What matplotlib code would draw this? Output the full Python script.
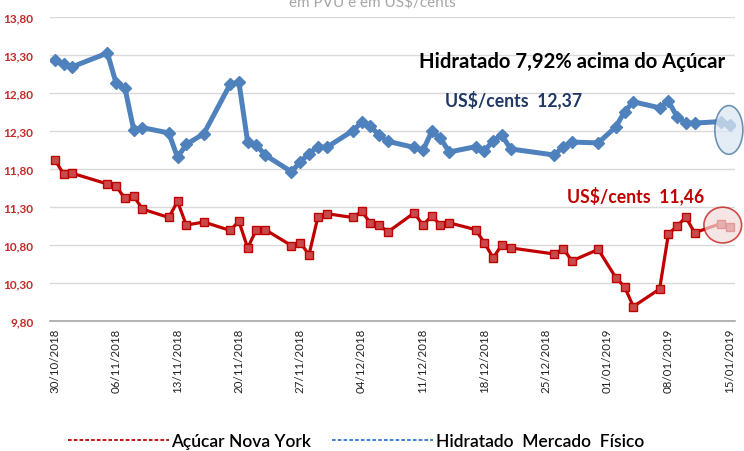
import matplotlib
matplotlib.use("Agg")
import matplotlib.pyplot as plt
import matplotlib.dates as mdates
from matplotlib.lines import Line2D
from matplotlib.patches import Ellipse
import pandas as pd

dates = ["30/10/2018", "31/10/2018", "01/11/2018", "05/11/2018", "06/11/2018", "07/11/2018",
         "08/11/2018", "09/11/2018", "12/11/2018", "13/11/2018", "14/11/2018", "16/11/2018",
         "19/11/2018", "20/11/2018", "21/11/2018", "22/11/2018", "23/11/2018", "26/11/2018",
         "27/11/2018", "28/11/2018", "29/11/2018", "30/11/2018", "03/12/2018", "04/12/2018",
         "05/12/2018", "06/12/2018", "07/12/2018", "10/12/2018", "11/12/2018", "12/12/2018",
         "13/12/2018", "14/12/2018", "17/12/2018", "18/12/2018", "19/12/2018", "20/12/2018",
         "21/12/2018", "26/12/2018", "27/12/2018", "28/12/2018", "31/12/2018", "02/01/2019",
         "03/01/2019", "04/01/2019", "07/01/2019", "08/01/2019", "09/01/2019", "10/01/2019",
         "11/01/2019", "14/01/2019", "15/01/2019"]

hidratado = [13.23, 13.17, 13.14, 13.32, 12.92, 12.86, 12.31, 12.34, 12.27, 11.95, 12.12, 12.26,
             12.91, 12.94, 12.15, 12.11, 11.98, 11.76, 11.89, 12.00, 12.09, 12.08, 12.30, 12.41,
             12.36, 12.24, 12.16, 12.08, 12.04, 12.29, 12.20, 12.02, 12.09, 12.03, 12.17, 12.24,
             12.06, 11.98, 12.09, 12.15, 12.14, 12.35, 12.55, 12.68, 12.60, 12.69, 12.48, 12.40,
             12.40, 12.42, 12.37]

acucar = [11.92, 11.73, 11.74, 11.60, 11.57, 11.41, 11.44, 11.27, 11.16, 11.37, 11.06, 11.10,
          10.99, 11.11, 10.76, 11.00, 11.00, 10.79, 10.83, 10.67, 11.16, 11.21, 11.16, 11.24,
          11.09, 11.06, 10.97, 11.22, 11.06, 11.18, 11.06, 11.09, 11.00, 10.83, 10.63, 10.80,
          10.76, 10.68, 10.75, 10.59, 10.74, 10.37, 10.25, 9.99, 10.22, 10.94, 11.05, 11.16,
          10.96, 11.08, 11.04]

yticks = [9.80, 10.30, 10.80, 11.30, 11.80, 12.30, 12.80, 13.30, 13.80]
subtitle = "em PVU e em US$/cents"
note_main = "Hidratado 7,92% acima do Açúcar"
note_blue = "US$/cents  12,37"
note_red = "US$/cents  11,46"
legend_labels = ["Açúcar Nova York", "Hidratado  Mercado  Físico"]

plt.rcParams['font.family'] = ['Lato', 'DejaVu Sans']

x = pd.to_datetime(dates, format="%d/%m/%Y")
xn = mdates.date2num(x)

BLUE = "#4F81BD"
RED = "#C00000"

fig = plt.figure(figsize=(7.44, 4.52), dpi=100)
ax = fig.add_axes([50/744, 1-322/452, (735-50)/744, (322-17.5)/452])

ax.plot(xn, hidratado, color=BLUE, lw=3.6, marker='D', ms=6.5, mfc=BLUE, mec=BLUE, zorder=3)
ax.plot(xn, acucar, color=RED, lw=2.3, marker='s', ms=5.5, mfc="#C94A4D", mec=RED, mew=1.0, zorder=3)

ax.set_ylim(9.80, 13.80)
ax.set_xlim(xn[0] - 0.55, xn[-1] + 0.6)
ax.set_yticks(yticks)
ax.set_yticklabels([f"{v:.2f}".replace('.', ',') for v in yticks], color="#C62828",
                   fontweight='bold', fontsize=8.5)
ticks = pd.date_range(x[0], x[-1], freq='7D')
ax.set_xticks(mdates.date2num(ticks))
ax.set_xticklabels([t.strftime("%d/%m/%Y") for t in ticks], rotation=90, fontsize=8.3, color="#222222")
ax.tick_params(axis='both', length=0, pad=5)
ax.tick_params(axis='y', pad=12)
ax.grid(axis='y', color="#D9D9D9", lw=1)
ax.set_axisbelow(True)
for s in ['top', 'right', 'left']:
    ax.spines[s].set_visible(False)
ax.spines['bottom'].set_color("#A6A6A6")
ax.spines['bottom'].set_linewidth(1.2)

# highlight ellipses around latest values
ax.add_patch(Ellipse((xn[-1] - 0.1, hidratado[-1] - 0.06), 3.2, 0.64, facecolor="#DCE6F2",
                     edgecolor="#41719C", lw=1.2, alpha=0.75, zorder=4, clip_on=False))
ax.add_patch(Ellipse(((xn[-1] + xn[-2]) / 2 - 0.3, (acucar[-1] + acucar[-2]) / 2), 4.3, 0.47,
                     facecolor="#F2DCDB", edgecolor=RED, lw=1.2, alpha=0.7, zorder=4, clip_on=False))

fig.text(372/744, 1-2/452, subtitle, ha='center', va='center', color="#A6A6A6", fontsize=11)
fig.text(572/744, 1-62/452, note_main, ha='center', va='center', fontweight='bold',
         fontsize=14.6, color="black")
fig.text(514/744, 1-100/452, note_blue, ha='center', va='center', fontweight='bold',
         fontsize=12.7, color="#1F3864")
fig.text(636/744, 1-196/452, note_red, ha='center', va='center', fontweight='bold',
         fontsize=12.7, color=RED)

handles = [Line2D([], [], color=RED, lw=1.3, ls=(0, (2, 1.2))),
           Line2D([], [], color="#2E75D6", lw=1.3, ls=(0, (2, 1.2)))]
fig.legend(handles, legend_labels, loc='center', bbox_to_anchor=(356/744, 1-442/452), ncol=2,
           frameon=False, handlelength=5.8, handletextpad=0.15, columnspacing=1.2,
           prop={'size': 12.5, 'weight': 'semibold'})

fig.savefig("out.png", dpi=100)
